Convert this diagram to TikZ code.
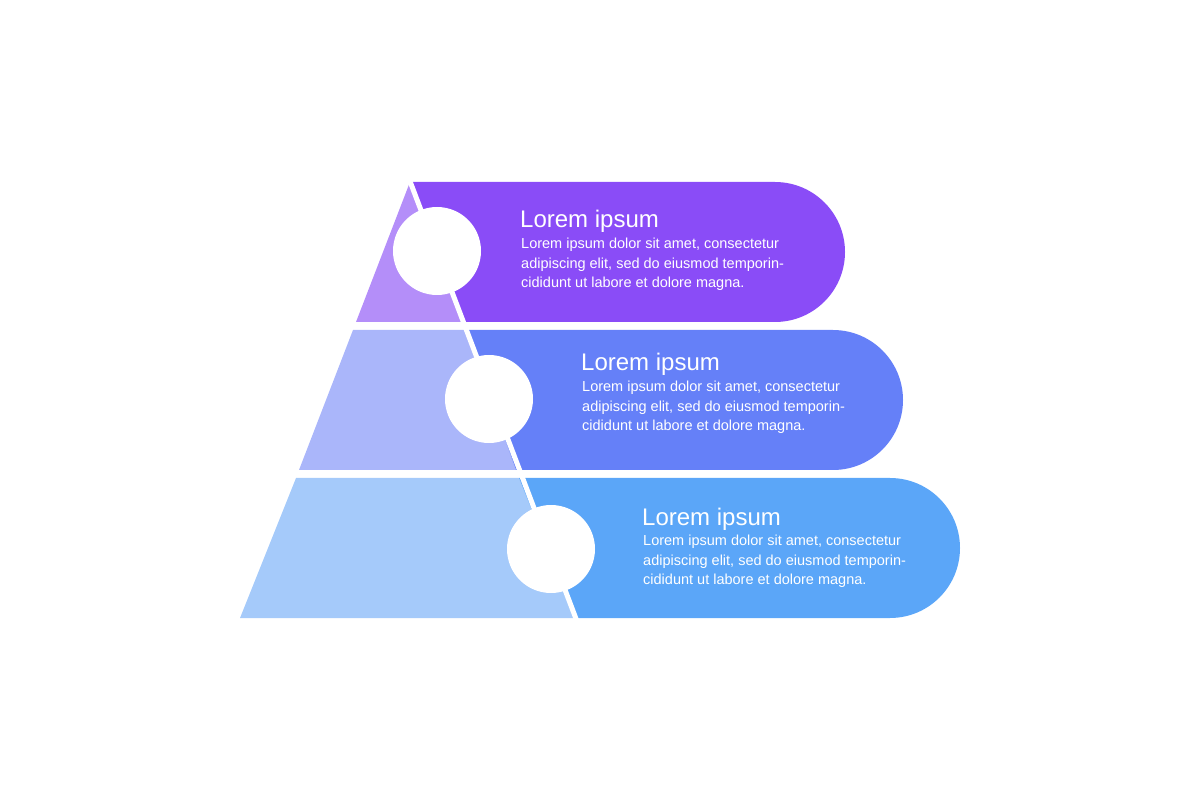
\documentclass[tikz,border=0pt]{standalone}
\usepackage{fontspec}
\setmainfont{Liberation Sans}
\definecolor{tA}{HTML}{B48EF9}
\definecolor{bA}{HTML}{8A4CF7}
\definecolor{tB}{HTML}{AAB6FA}
\definecolor{bB}{HTML}{6580F8}
\definecolor{tC}{HTML}{A5CAFA}
\definecolor{bC}{HTML}{5BA6F8}
\tikzset{ttl/.style={anchor=base west,text=white,font=\fontsize{24}{28}\selectfont,inner sep=0},
 bdy/.style={anchor=north west,text=white,font=\fontsize{14.5}{19.6}\selectfont,inner sep=0,align=left},
 hole/.style={circle,fill=white,minimum size=88pt,inner sep=0}}
\begin{document}
\begin{tikzpicture}[x=1pt,y=-1pt]
\useasboundingbox (0,0) rectangle (1200,799);
% tier 1 (182-322)
\fill[tA] (410,182) -- (356,322) -- (463,322) -- cycle;
\fill[bA] (410,182) -- (775,182) arc[start angle=-90,end angle=90,radius=70] -- (463,322) -- cycle;
% tier 2 (330-470)
\fill[tB] (353,330) -- (299,470) -- (516,470) -- (466,330) -- cycle;
\fill[bB] (466,330) -- (833,330) arc[start angle=-90,end angle=90,radius=70] -- (516,470) -- cycle;
% tier 3 (478-618)
\fill[tC] (296,478) -- (240,618) -- (575,618) -- (519,478) -- cycle;
\fill[bC] (519,478) -- (890,478) arc[start angle=-90,end angle=90,radius=70] -- (575,618) -- cycle;
\draw[white,line width=5pt] (408,176) -- (578,624);
\node[hole] (c1) at (437,251) {};
\node[hole] (c2) at (489,399) {};
\node[hole] (c3) at (551,549) {};
\node[ttl] (h1) at (520,228) {Lorem ipsum};
\node[bdy] (p1) at (521,238) {Lorem ipsum dolor sit amet, consectetur\\adipiscing elit, sed do eiusmod temporin-\\cididunt ut labore et dolore magna.};
\node[ttl] (h2) at (581,371) {Lorem ipsum};
\node[bdy] (p2) at (582,381) {Lorem ipsum dolor sit amet, consectetur\\adipiscing elit, sed do eiusmod temporin-\\cididunt ut labore et dolore magna.};
\node[ttl] (h3) at (642,525) {Lorem ipsum};
\node[bdy] (p3) at (643,535) {Lorem ipsum dolor sit amet, consectetur\\adipiscing elit, sed do eiusmod temporin-\\cididunt ut labore et dolore magna.};
\end{tikzpicture}
\end{document}
